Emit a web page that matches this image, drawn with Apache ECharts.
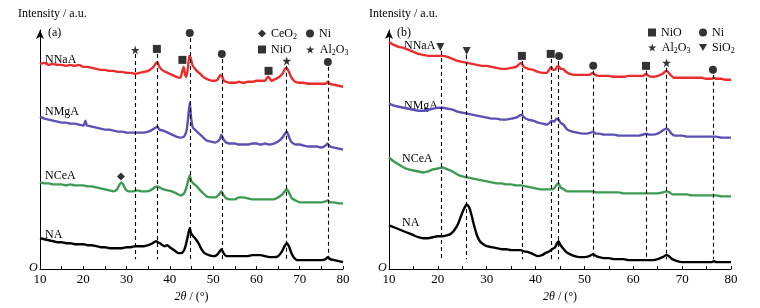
<!DOCTYPE html>
<html>
<head>
<meta charset="utf-8">
<script src="https://cdn.jsdelivr.net/npm/echarts@6/dist/echarts.min.js"></script>
<style>
html, body { margin: 0; padding: 0; background: #fff; }
#chart { width: 760px; height: 308px; }
</style>
</head>
<body>
<div id="chart"></div>
<script>
// tick labels on the 2θ axis
const xTicks = [10, 20, 30, 40, 50, 60, 70, 80];
const sampleNames = ['NNaA', 'NMgA', 'NCeA', 'NA'];
const sampleColors = ['#ee2b2b', '#5b50b4', '#3d9a52', '#000000'];

// panel (a) patterns: [2θ, stacked intensity]
const aNNaA = [[10,206],[11,207],[12,205],[13,206],[14,205],[15,205],[16,204],[17,205],[18,204],[19,205],[20,203],[21,203],[22,202],[23,201],[24,200],[25,200],[26,199],[27,199],[28,198],[29,198],[30,197],[31,197],[32,196],[33,197],[34,198],[35,199],[36,202],[36.7,206],[37.1,208],[37.6,203],[38.5,199],[39.5,197],[40.5,195],[41.5,193],[42.4,192],[42.9,199],[43.2,203],[43.5,196],[43.8,193],[44.2,203],[44.5,214],[44.8,212],[45.2,205],[46,200],[47,196],[48,192],[49,190],[50,189],[51,190],[51.7,195],[52,194],[52.5,189],[53,188],[54,187],[55,187],[56,188],[57,187],[58,188],[59,188],[60,189],[61,189],[62,189],[62.6,193],[63,192],[63.5,189],[64,190],[65,192],[66,196],[66.6,201],[67,202],[67.5,198],[68,193],[68.5,190],[69,188],[70,187],[71,187],[72,186],[73,186],[74,186],[75,186],[76,186],[76.5,188],[77,186],[78,185],[79,184],[80,183]];
const aNMgA = [[10,153],[11,151],[12,150],[13,149],[14,148],[15,147],[16,147],[17,146],[18,146],[19,145],[20,144],[20.5,149],[20.8,144],[21,144],[22,143],[23,142],[24,141],[25,140],[26,140],[27,139],[28,138],[29,138],[30,137],[31,137],[32,137],[33,137],[34,137],[35,138],[36,140],[36.7,142],[37.1,143],[37.6,140],[38.5,139],[39.5,137],[40.5,135],[41.5,133],[42.5,132],[43.3,133],[43.9,140],[44.3,155],[44.6,167],[44.9,152],[45.3,142],[45.8,140],[46.5,137],[47.5,133],[48.5,129],[49.5,128],[50.5,127],[51.5,130],[51.9,135],[52.3,131],[53,127],[54,126],[55,126],[56,125],[57,125],[58,125],[59,126],[60,126],[61,125],[62,126],[63,125],[64,126],[65,128],[66,132],[66.6,136],[67,138],[67.5,133],[68,128],[69,125],[70,125],[71,124],[72,123],[73,123],[74,123],[75,122],[76,124],[76.4,126],[77,123],[78,122],[79,121],[80,120]];
const aNCeA = [[10,87],[11,86],[12,86],[13,85],[14,85],[15,85],[16,84],[17,85],[18,84],[19,84],[20,84],[21,83],[22,83],[23,82],[24,81],[25,80],[26,79],[27,78],[27.8,80],[28.4,85],[28.8,87],[29.2,85],[29.8,80],[30.5,78],[31.5,78],[32.5,79],[33.5,78],[34.5,78],[35.5,79],[36.5,82],[37.1,83],[37.6,82],[38.5,80],[39.5,79],[40.5,78],[41.5,76],[42.5,74],[43.3,76],[43.9,83],[44.3,90],[44.6,94],[44.9,89],[45.4,86],[46,84],[46.8,80],[47.5,77],[48.5,73],[49.5,72],[50.5,72],[51.4,75],[51.9,78],[52.3,75],[53,71],[54,70],[55,70],[56,72],[57,72],[58,71],[59,70],[60,70],[61,70],[62,70],[63,70],[64,70],[65,72],[66,75],[66.7,79],[67.1,80],[67.6,76],[68.2,71],[69,69],[70,67],[71,67],[72,67],[73,67],[74,67],[75,67],[76,68],[76.5,69],[77,67],[78,67],[79,66],[80,66]];
const aNA = [[10,31],[11,30],[12,29],[13,28],[14,27],[15,27],[16,26],[17,26],[18,25],[19,25],[20,25],[21,24],[22,24],[23,23],[24,22],[25,22],[26,21],[27,21],[28,21],[29,21],[30,22],[31,22],[32,23],[33,23],[34,23],[35,24],[36,26],[36.8,28],[37.3,27],[38,25],[38.8,23],[39.4,24],[40,22],[41,19],[42,16],[42.7,16],[43.4,20],[44,30],[44.4,38],[44.6,41],[44.9,36],[45.4,33],[46,30],[46.6,26],[47.3,20],[48,16],[49,14],[50,13],[50.8,14],[51.4,17],[51.9,20],[52.4,16],[53,13],[54,13],[55,13],[56,13],[57,13],[58,13],[59,14],[60,14],[61,14],[62,13],[63,12],[64,12],[65,13],[65.8,17],[66.5,23],[67,26],[67.5,23],[68,17],[68.6,12],[69.5,9],[70,9],[71,9],[72,9],[73,9],[74,9],[75,9],[76,10],[76.5,12],[77,10],[78,9],[79,8],[80,7]];

// panel (b) patterns
const bNNaA = [[10,228],[11,225],[12,223],[13,222],[14,220],[15,218],[16,216],[17,215],[18,214],[19,214],[20,214],[21,214],[22,213],[23,211],[24,209],[25,208],[26,207],[27,206],[28,205],[29,204],[30,204],[31,203],[32,202],[33,201],[34,201],[35,202],[36,203],[36.7,206],[37.1,207],[37.6,203],[38.5,201],[39.5,200],[40.5,198],[41.5,197],[42.3,197],[42.9,201],[43.2,203],[43.6,200],[44,200],[44.4,203],[44.7,204],[45.1,201],[45.6,201],[46.2,198],[47,196],[48,195],[49,195],[50,195],[51,195],[51.7,197],[52.2,195],[53,194],[54,194],[55,194],[56,193],[57,193],[58,193],[59,194],[60,194],[61,194],[62,194],[62.6,196],[63.1,194],[64,193],[65,194],[66,196],[66.7,199],[67.1,198],[67.6,195],[68.3,192],[69,192],[70,192],[71,192],[72,192],[73,192],[74,192],[75,191],[76,191],[76.5,192],[77,191],[78,191],[79,190],[80,190]];
const bNMgA = [[10,166],[11,164],[12,163],[13,162],[14,161],[15,160],[16,159],[17,159],[18,160],[19,161],[20,162],[21,162],[22,161],[23,160],[24,158],[25,157],[26,156],[27,155],[28,154],[29,153],[30,152],[31,151],[32,151],[33,150],[34,150],[35,151],[36,152],[36.7,154],[37.2,155],[37.7,152],[38.5,150],[39.5,149],[40.5,147],[41.5,146],[42.3,145],[42.9,147],[43.3,149],[43.8,148],[44.3,151],[44.7,150],[45.1,147],[45.7,145],[46.5,140],[47.5,138],[48.5,137],[49.5,136],[50.5,136],[51.3,137],[51.8,138],[52.3,136],[53,136],[54,135],[55,135],[56,135],[57,134],[58,134],[59,134],[60,134],[61,134],[62,135],[62.7,136],[63.2,135],[64,135],[65,136],[66,139],[66.7,141],[67.2,140],[67.8,136],[68.5,134],[69,134],[70,134],[71,133],[72,133],[73,133],[74,133],[75,133],[76,133],[76.5,133],[77,133],[78,132],[79,132],[80,132]];
const bNCeA = [[10,112],[11,108],[12,105],[13,102],[14,100],[15,99],[16,98],[17,97],[18,98],[19,100],[20,101],[21,102],[22,100],[23,98],[24,95],[25,93],[26,92],[27,91],[28,90],[29,89],[30,88],[31,87],[32,86],[33,86],[34,85],[35,85],[36,84],[37,84],[38,83],[39,82],[40,81],[41,80],[42,80],[43,80],[43.8,81],[44.4,85],[44.7,86],[45.1,82],[45.8,80],[46.5,78],[47.5,78],[48.5,78],[49.5,78],[50.5,78],[51.5,78],[52.5,77],[54,77],[55,77],[56,77],[57,77],[58,76],[59,76],[60,76],[61,76],[62,76],[63,76],[64,76],[65,76],[66,77],[66.8,78],[67.4,77],[68,75],[69,75],[70,75],[71,75],[72,74],[73,74],[74,74],[75,74],[76,74],[77,74],[78,73],[79,73],[80,73]];
const bNA = [[10,44],[11,42],[12,40],[13,38],[14,36],[15,34],[16,32],[17,31],[18,31],[19,32],[20,33],[21,33],[22,34],[22.8,36],[23.5,40],[24.2,46],[24.8,54],[25.4,61],[25.9,65],[26.4,62],[26.9,54],[27.4,44],[28,34],[28.6,28],[29.3,25],[30,23],[31,22],[32,21],[33,20],[34,20],[35,19],[36,19],[37,19],[37.5,18],[38.5,17],[39.5,15],[40.5,13],[41.3,14],[42,16],[42.8,18],[43.4,20],[44,22],[44.4,26],[44.7,28],[45.1,24],[45.6,21],[46.3,17],[47,15],[48,13],[49,12],[50,12],[51,13],[51.8,15],[52.4,13],[53,12],[54,11],[55,11],[56,10],[57,10],[58,10],[59,9],[60,9],[61,9],[62,9],[63,9],[64,9],[65,10],[66,12],[66.8,14],[67.3,13],[68,10],[69,8],[70,7],[71,7],[72,7],[73,7],[74,7],[75,7],[76,7],[76.5,8],[77,7],[78,7],[79,7],[80,7]];

// phase markers [2θ, height]
const aCeO2 = [[28.7,93]];
const aNi = [[44.6,237],[52,216],[76.5,208]];
const aNiO = [[37,221],[42.9,210],[62.8,199]];
const aAl2O3 = [[32,220],[67,209]];
const bSiO2 = [[20.5,223],[25.9,219]];
const bNiO = [[37.2,214],[43.1,216],[62.6,204]];
const bNi = [[44.8,214],[51.8,204],[76.3,200]];
const bAl2O3 = [[66.8,207]];

// dashed reference lines: 2θ and top end
const aDashX = [32, 37, 44.6, 52, 67, 76.5];
const aDashTop = [216, 216, 232, 211, 204, 203];
const bDashX = [20.7, 25.9, 37.2, 43.3, 44.7, 51.8, 62.7, 66.8, 76.4];
const bDashTop = [219, 215, 209, 211, 209, 199, 199, 202, 195];
const dashBottom = 10;

const serif = '"Liberation Serif", "Times New Roman", serif';
const starPath = 'path://M50,0 L61,35 L98,35 L68,57 L79,91 L50,70 L21,91 L32,57 L2,35 L39,35 Z';
const triPath = 'path://M0,0 L10,0 L5,9 Z';
const symbols = { 'CeO2': 'diamond', 'Ni': 'circle', 'NiO': 'rect', 'Al2O3': starPath, 'SiO2': triPath };
const legendText = { 'CeO2': 'CeO{s|2}', 'Ni': 'Ni', 'NiO': 'NiO', 'Al2O3': 'Al{s|2}O{s|3}', 'SiO2': 'SiO{s|2}' };

const makeX = (idx) => ({
  type: 'value', gridIndex: idx, min: 10, max: 80, interval: 5,
  name: '{i|2θ} / (°)', nameLocation: 'middle', nameGap: 17,
  nameTextStyle: { fontFamily: serif, fontSize: 12, color: '#000', rich: { i: { fontFamily: serif, fontStyle: 'italic', fontSize: 12 } } },
  axisLine: { lineStyle: { color: '#000', width: 1 } },
  axisTick: { inside: true, length: 3, lineStyle: { color: '#000' } },
  axisLabel: { margin: 4, fontFamily: serif, fontSize: 13, color: '#000',
    formatter: v => xTicks.includes(v) ? String(v) : '' },
  splitLine: { show: false }
});
const makeY = (idx) => ({
  type: 'value', gridIndex: idx, min: 0, max: 240,
  axisLine: { show: true, symbol: ['none', 'arrow'], symbolSize: [6, 9], lineStyle: { color: '#000', width: 1 } },
  axisTick: { show: false }, axisLabel: { show: false }, splitLine: { show: false }
});

const traces = (list, idx) => list.map((d, i) => ({
  name: sampleNames[i] + idx, type: 'line', xAxisIndex: idx, yAxisIndex: idx,
  data: d, showSymbol: false, smooth: 0.2, z: 3,
  lineStyle: { color: sampleColors[i], width: 2.4 }
}));
const dashes = (xs, tops, idx) => ({
  name: 'dash' + idx, type: 'line', xAxisIndex: idx, yAxisIndex: idx, data: [], z: 2,
  markLine: {
    silent: true, symbol: 'none', label: { show: false },
    lineStyle: { color: '#000', width: 1.1, type: [4, 3] },
    data: xs.map((x, i) => [{ coord: [x, tops[i]] }, { coord: [x, dashBottom] }])
  }
});
const markers = (name, data, idx, size) => ({
  name: name, type: 'scatter', xAxisIndex: idx, yAxisIndex: idx, data: data, z: 4,
  symbol: symbols[name], symbolSize: size, itemStyle: { color: '#000' }
});
const legendAt = (name, left, top) => ({
  left: left, top: top, data: [name], selectedMode: false,
  itemWidth: name === 'Al2O3' ? 9 : 8, itemHeight: 8, itemGap: 0,
  formatter: n => legendText[n],
  textStyle: { fontFamily: serif, fontSize: 12, color: '#000', lineHeight: 15,
    rich: { s: { fontFamily: serif, fontSize: 8, lineHeight: 15, verticalAlign: 'bottom' } } }
});
const text = (str, x, y, extra) => ({
  type: 'text', x: x, y: y,
  style: Object.assign({ text: str, font: '12px ' + serif, fill: '#000', verticalAlign: 'middle' }, extra || {})
});

const option = {
  animation: false,
  backgroundColor: '#fff',
  grid: [
    { left: 40, right: 417, top: 30, bottom: 38 },
    { left: 389, right: 29, top: 30, bottom: 38 }
  ],
  xAxis: [makeX(0), makeX(1)],
  yAxis: [makeY(0), makeY(1)],
  legend: [
    legendAt('CeO2', 253, 21), legendAt('Ni', 301, 21),
    legendAt('NiO', 253, 37), legendAt('Al2O3', 301, 37),
    legendAt('NiO', 643, 20), legendAt('Ni', 694, 20),
    legendAt('Al2O3', 643, 35), legendAt('SiO2', 694, 35)
  ],
  series: [
    dashes(aDashX, aDashTop, 0),
    dashes(bDashX, bDashTop, 1),
    ...traces([aNNaA, aNMgA, aNCeA, aNA], 0),
    ...traces([bNNaA, bNMgA, bNCeA, bNA], 1),
    markers('CeO2', aCeO2, 0, 8),
    markers('Ni', aNi, 0, 8),
    markers('NiO', aNiO, 0, 8),
    markers('Al2O3', aAl2O3, 0, 9),
    markers('SiO2', bSiO2, 1, 8),
    markers('NiO', bNiO, 1, 8),
    markers('Ni', bNi, 1, 8),
    markers('Al2O3', bAl2O3, 1, 9)
  ],
  graphic: [
    text('Intensity / a.u.', 18, 14),
    text('Intensity / a.u.', 369, 14),
    text('(a)', 48, 33),
    text('(b)', 397, 33),
    text('O', 29, 268, { font: 'italic 12px ' + serif }),
    text('O', 378, 268, { font: 'italic 12px ' + serif }),
    text(sampleNames[0], 45, 60), text(sampleNames[1], 45, 112),
    text(sampleNames[2], 45, 176), text(sampleNames[3], 45, 235),
    text(sampleNames[0], 404, 46), text(sampleNames[1], 404, 106),
    text(sampleNames[2], 402, 159), text(sampleNames[3], 402, 223)
  ]
};

const myChart = echarts.init(document.getElementById('chart'), null, { renderer: 'canvas' });
myChart.setOption(option);
</script>
</body>
</html>
